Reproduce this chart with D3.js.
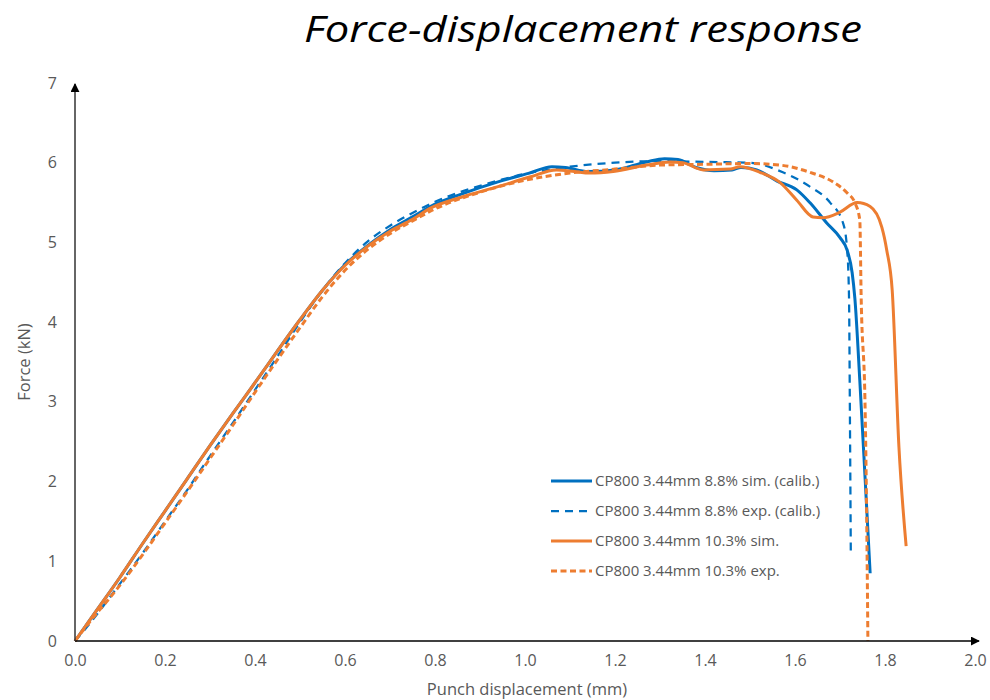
<!DOCTYPE html>
<html>
<head>
<meta charset="utf-8" />
<title>Force-displacement response</title>
<style>
  body { margin: 0; background: #fff; }
  text { font-family: "Open Sans", "Noto Sans", sans-serif; }
  .tick-label { fill: #595959; font-size: 16px; }
  .axis-title { fill: #595959; font-size: 16.5px; }
  .legend text { fill: #595959; font-size: 15px; }
</style>
</head>
<body>
<div id="chart"></div>
<script src="https://cdn.jsdelivr.net/npm/d3@7"></script>
<script>

// x = punch displacement (mm), y = force (kN)
var blueSimX = [0, 0.05, 0.1, 0.15, 0.2, 0.25, 0.3, 0.35, 0.4, 0.45, 0.5, 0.55, 0.6, 0.65, 0.7, 0.75, 0.8, 0.86, 0.94, 1.01, 1.06, 1.09, 1.14, 1.2, 1.27, 1.31, 1.34, 1.38, 1.42, 1.46, 1.48, 1.515, 1.56, 1.604, 1.633, 1.671, 1.7, 1.716, 1.727, 1.733, 1.744, 1.756, 1.767];
var blueSimY = [0, 0.4, 0.8, 1.22, 1.63, 2.04, 2.45, 2.85, 3.24, 3.64, 4.03, 4.4, 4.72, 4.96, 5.16, 5.32, 5.48, 5.61, 5.76, 5.87, 5.95, 5.94, 5.89, 5.91, 6.01, 6.05, 6.04, 5.94, 5.9, 5.91, 5.94, 5.91, 5.77, 5.66, 5.5, 5.24, 5.06, 4.9, 4.62, 4.3, 3.27, 2.02, 0.85];

var blueExpX = [0, 0.03, 0.1, 0.15, 0.2, 0.25, 0.3, 0.35, 0.4, 0.45, 0.5, 0.55, 0.6, 0.65, 0.7, 0.75, 0.8, 0.85, 0.9, 0.95, 1.0, 1.05, 1.1, 1.2, 1.3, 1.4, 1.5, 1.573, 1.633, 1.678, 1.707, 1.716, 1.72, 1.722, 1.724];
var blueExpY = [0, 0.2, 0.72, 1.1, 1.5, 1.9, 2.32, 2.73, 3.15, 3.57, 4.0, 4.4, 4.74, 5.01, 5.21, 5.37, 5.51, 5.62, 5.71, 5.79, 5.86, 5.91, 5.95, 6.0, 6.02, 6.01, 6.0, 5.88, 5.7, 5.5, 5.24, 4.9, 4.32, 2.86, 1.1];

var orangeSimX = [0, 0.05, 0.1, 0.15, 0.2, 0.25, 0.3, 0.35, 0.4, 0.45, 0.5, 0.55, 0.6, 0.65, 0.7, 0.75, 0.79, 0.86, 0.94, 1.01, 1.07, 1.11, 1.144, 1.196, 1.27, 1.322, 1.351, 1.396, 1.456, 1.478, 1.522, 1.567, 1.604, 1.64, 1.662, 1.7, 1.738, 1.767, 1.793, 1.804, 1.816, 1.831, 1.847];
var orangeSimY = [0, 0.4, 0.8, 1.22, 1.63, 2.04, 2.45, 2.85, 3.24, 3.64, 4.03, 4.4, 4.71, 4.95, 5.14, 5.29, 5.43, 5.57, 5.7, 5.82, 5.91, 5.89, 5.87, 5.89, 5.97, 6.01, 6.0, 5.91, 5.92, 5.95, 5.88, 5.75, 5.53, 5.32, 5.31, 5.38, 5.5, 5.45, 5.19, 4.9, 4.4, 2.43, 1.19];

var orangeExpX = [0, 0.03, 0.1, 0.15, 0.2, 0.25, 0.3, 0.35, 0.4, 0.45, 0.5, 0.55, 0.6, 0.65, 0.7, 0.75, 0.8, 0.9, 1.0, 1.1, 1.2, 1.3, 1.4, 1.5, 1.567, 1.633, 1.684, 1.716, 1.733, 1.744, 1.747, 1.756, 1.76, 1.762];
var orangeExpY = [0, 0.22, 0.7, 1.08, 1.48, 1.88, 2.29, 2.7, 3.12, 3.53, 3.93, 4.32, 4.65, 4.91, 5.11, 5.27, 5.42, 5.63, 5.78, 5.87, 5.92, 5.97, 5.98, 5.99, 5.97, 5.88, 5.76, 5.62, 5.5, 5.28, 4.32, 2.86, 1.18, 0.0];

var seriesNames = ["CP800 3.44mm 8.8% sim. (calib.)", "CP800 3.44mm 8.8% exp. (calib.)", "CP800 3.44mm 10.3% sim.", "CP800 3.44mm 10.3% exp."];
var xTicks = [0, 0.2, 0.4, 0.6, 0.8, 1.0, 1.2, 1.4, 1.6, 1.8, 2.0];
var yTicks = [0, 1, 2, 3, 4, 5, 6, 7];

var blue = "#0070C0", orange = "#ED7D31";
var series = [
  { name: seriesNames[0], xs: blueSimX, ys: blueSimY, color: blue, width: 3, dash: null, legDash: null },
  { name: seriesNames[1], xs: blueExpX, ys: blueExpY, color: blue, width: 2.25, dash: "8,6", legDash: "8,6" },
  { name: seriesNames[2], xs: orangeSimX, ys: orangeSimY, color: orange, width: 3, dash: null, legDash: null },
  { name: seriesNames[3], xs: orangeExpX, ys: orangeExpY, color: orange, width: 3, dash: "6,3.5", legDash: "6,3.5" }
];

var W = 990, H = 700;
var svg = d3.select("#chart").append("svg").attr("width", W).attr("height", H);

var x = d3.scaleLinear().domain([0, 2]).range([75, 975]);
var y = d3.scaleLinear().domain([0, 7]).range([641, 83]);

// arrow heads
var defs = svg.append("defs");
defs.append("marker")
    .attr("id", "arrow")
    .attr("viewBox", "0 0 10 10")
    .attr("refX", 9).attr("refY", 5)
    .attr("markerWidth", 9).attr("markerHeight", 9)
    .attr("markerUnits", "userSpaceOnUse")
    .attr("orient", "auto")
    .append("path").attr("d", "M0,0 L10,5 L0,10 z").attr("fill", "#000");

// title
svg.append("text")
    .attr("x", 583).attr("y", 42)
    .attr("text-anchor", "middle")
    .attr("font-style", "italic")
    .attr("fill", "#000")
    .style("font-size", "37px")
    .attr("textLength", 558)
    .attr("lengthAdjust", "spacingAndGlyphs")
    .text("Force-displacement response");

// curves
var line = d3.line().curve(d3.curveMonotoneX);
var plot = svg.append("g");
series.forEach(function (s) {
  var pts = s.xs.map(function (d, i) { return [x(d), y(s.ys[i])]; });
  plot.append("path")
      .attr("d", line(pts))
      .attr("fill", "none")
      .attr("stroke", s.color)
      .attr("stroke-width", s.width)
      .attr("stroke-dasharray", s.dash)
      .attr("stroke-linejoin", "round");
});

// axes (no tick marks, arrows at the ends)
var xAxis = d3.axisBottom(x).tickValues(xTicks).tickFormat(d3.format(".1f")).tickSize(0).tickPadding(14);
var gx = svg.append("g").attr("transform", "translate(0," + y(0) + ")").call(xAxis);
gx.attr("font-size", null).attr("font-family", null);
gx.select(".domain").remove();
gx.selectAll("text").attr("class", "tick-label").attr("fill", null);

var yAxis = d3.axisLeft(y).tickValues(yTicks).tickFormat(d3.format("d")).tickSize(0).tickPadding(18);
var gy = svg.append("g").attr("transform", "translate(" + x(0) + ",0)").call(yAxis);
gy.attr("font-size", null).attr("font-family", null);
gy.select(".domain").remove();
gy.selectAll("text").attr("class", "tick-label").attr("fill", null);

svg.append("line")
    .attr("x1", x(0)).attr("y1", y(0)).attr("x2", 979).attr("y2", y(0))
    .attr("stroke", "#000").attr("stroke-width", 1.5)
    .attr("marker-end", "url(#arrow)");
svg.append("line")
    .attr("x1", x(0)).attr("y1", y(0)).attr("x2", x(0)).attr("y2", 84)
    .attr("stroke", "#333").attr("stroke-width", 1.5)
    .attr("marker-end", "url(#arrow)");

// axis titles
svg.append("text").attr("class", "axis-title")
    .attr("text-anchor", "middle")
    .attr("transform", "translate(30,362) rotate(-90)")
    .text("Force (kN)");
svg.append("text").attr("class", "axis-title")
    .attr("text-anchor", "middle")
    .attr("x", 527).attr("y", 695)
    .text("Punch displacement (mm)");

// legend
var legend = svg.append("g").attr("class", "legend");
series.forEach(function (s, i) {
  var ly = 481 + i * 30;
  legend.append("line")
      .attr("x1", 551).attr("x2", 592).attr("y1", ly).attr("y2", ly)
      .attr("stroke", s.color).attr("stroke-width", s.width)
      .attr("stroke-dasharray", s.legDash);
  legend.append("text")
      .attr("x", 595).attr("y", ly).attr("dy", "0.35em")
      .text(s.name);
});

</script>
</body>
</html>
